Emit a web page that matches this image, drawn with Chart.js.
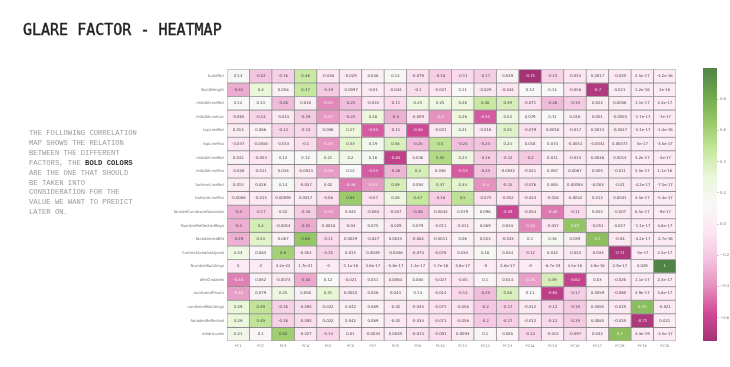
<!DOCTYPE html>
<html>
<head>
<meta charset="utf-8">
<script src="https://cdn.jsdelivr.net/npm/chart.js@4"></script>
<style>
html, body { margin:0; padding:0; background:#fff; width:730px; height:367px; overflow:hidden; }
h1 { position:absolute; left:23px; top:21px; margin:0; font:normal 15px/18px "DejaVu Sans Mono", monospace; -webkit-text-stroke:0.4px #222; color:#222; white-space:nowrap; filter:blur(0.25px); }
p { position:absolute; left:29px; top:129px; margin:0; font:7.2px/9.9px "Liberation Mono", monospace; color:#999; white-space:pre; filter:blur(0.25px); }
p b { color:#333; }
canvas { position:absolute; top:64px; filter:blur(0.45px); }
#heat { left:170px; }
#bar { left:690px; }
</style>
</head>
<body>
<h1>GLARE FACTOR - HEATMAP</h1>
<p>THE FOLLOWING CORRELATION
MAP SHOWS THE RELATION
BETWEEN THE DIFFERENT
FACTORS, THE <b>BOLD COLORS</b>
ARE THE ONE THAT SHOULD
BE TAKEN INTO
CONSIDERATION FOR THE
VALUE WE WANT TO PREDICT
LATER ON.</p>
<canvas id="heat" width="520" height="295"></canvas>
<canvas id="bar" width="40" height="295"></canvas>
<script>
// datos
const components = ['PC1','PC2','PC3','PC4','PC5','PC6','PC7','PC8','PC9','PC10','PC11','PC12','PC13','PC14','PC15','PC16','PC17','PC18','PC19','PC20'];
const factors = ['buildRot','BuildHeight','middleLineRot','middleLineLoc','topLineRot','topLinePos','middleLineRot','middleLinePos','bottomLineRot','bottomLinePos','facadeCurvatureGaussian','NumberReflectedRays','facadeAreaBld','ContextAreaAnalyzed','NumberBuildings','aftnGndarea','numberofFloors','numberofBuildings','facadesReflected','meanLuxes'];

const buildRot = [0.14,-0.22,-0.16,0.46,-0.038,-0.029,0.048,0.14,-0.079,-0.18,-0.11,-0.17,0.049,-0.75,-0.15,-0.053,0.0017,-0.029,2.5e-17,-4.2e-18];
const buildHeight = [-0.31,0.3,0.058,0.47,-0.19,-0.0097,-0.01,-0.044,-0.1,-0.047,0.11,-0.029,-0.044,0.12,0.13,-0.058,-0.7,0.021,1.2e-16,2e-16];
const middleRot1 = [0.12,0.14,-0.26,0.018,-0.42,-0.25,-0.035,-0.11,0.25,0.25,0.26,0.46,0.39,-0.071,-0.26,-0.19,0.022,0.0056,1.1e-17,2.4e-17];
const middleLoc = [-0.065,-0.14,-0.013,-0.19,-0.37,-0.22,0.28,-0.3,-0.059,-0.4,0.28,-0.53,0.24,0.079,0.11,0.016,0.001,-0.0055,-1.7e-17,-7e-17];
const topRot = [0.013,0.066,-0.14,-0.13,0.006,0.27,-0.53,-0.11,-0.58,-0.031,0.21,-0.016,0.35,-0.079,0.0016,-0.017,0.0013,-0.0047,-5.1e-17,-1.4e-16];
const topPos = [-0.037,-0.0083,-0.013,-0.1,-0.39,0.33,0.19,0.38,-0.25,0.5,-0.24,-0.23,0.24,0.018,0.074,-0.0051,-0.0041,0.00077,5e-17,-3.5e-17];
const middleRot2 = [0.042,-0.054,0.12,0.12,0.21,0.2,0.16,-0.64,0.036,0.55,0.24,-0.18,-0.12,-0.2,0.011,-0.015,0.0048,0.0014,3.2e-17,-4e-17];
const middlePos = [-0.026,-0.011,0.043,-0.0014,-0.36,0.12,-0.53,-0.28,0.4,0.036,-0.53,-0.23,-0.0032,-0.021,0.067,0.0087,0.005,-0.011,5.5e-17,1.1e-16];
const bottomRot = [0.015,0.026,0.14,-0.057,0.02,-0.46,-0.37,0.39,0.094,0.37,0.33,-0.4,-0.15,-0.076,0.063,0.00093,-0.003,-0.01,-4.2e-17,-7.5e-17];
const bottomPos = [-0.0088,-0.015,0.00095,0.0017,-0.08,0.64,-0.07,0.26,0.47,-0.18,0.5,-0.075,-0.052,-0.044,-0.016,-0.0042,0.012,0.0041,4.5e-17,-5.4e-17];
const curvature = [-0.3,-0.17,0.02,-0.18,-0.38,0.045,-0.063,-0.057,-0.28,-0.0042,0.079,0.096,-0.59,-0.054,-0.46,-0.11,0.055,-0.007,6.5e-17,-9e-17];
const reflRays = [-0.3,0.4,-0.0054,-0.31,-0.0018,-0.04,0.075,-0.029,0.079,-0.011,-0.011,0.069,0.043,-0.42,-0.037,0.67,-0.051,0.027,-1.1e-17,3.8e-17];
const facadeArea = [-0.29,0.34,0.067,0.66,-0.11,0.0029,-0.027,0.0023,-0.082,-0.0011,0.06,0.023,-0.033,0.1,0.16,0.039,0.7,-0.04,-4.2e-17,-2.7e-16];
const contextArea = [0.23,0.083,0.6,-0.054,-0.15,0.015,0.0049,-0.0048,-0.074,-0.078,0.033,0.16,0.044,-0.12,0.042,-0.025,-0.033,-0.71,-5e-17,2.5e-17];
const numBuildings = [0,0,4.2e-22,1.7e-21,-0,-1.1e-16,5.6e-17,-5.6e-17,1.4e-17,-1.7e-16,5.6e-17,-0,2.8e-17,-0,-6.7e-19,3.5e-16,3.9e-16,2.9e-17,0.029,1];
const gndArea = [-0.44,0.062,-0.0073,-0.32,0.12,-0.021,0.051,0.0064,0.083,-0.027,-0.05,0.1,0.014,-0.35,0.39,-0.62,0.03,-0.026,1.1e-17,2.3e-17];
const floors = [-0.35,0.079,0.25,0.058,0.31,0.0025,0.028,0.044,0.13,-0.014,-0.12,-0.25,0.38,0.11,-0.65,-0.17,0.0059,-0.066,4.9e-17,5.8e-17];
const buildings = [0.29,0.49,-0.16,-0.092,0.022,0.042,0.069,-0.02,-0.033,-0.071,-0.058,-0.2,-0.17,-0.012,-0.12,-0.19,0.0085,-0.019,0.71,-0.021];
const facadesRefl = [0.29,0.49,-0.16,-0.092,0.022,0.042,0.069,-0.02,-0.033,-0.071,-0.058,-0.2,-0.17,-0.012,-0.12,-0.19,0.0085,-0.019,-0.71,0.021];
const meanLuxes = [0.21,0.1,0.62,-0.027,-0.13,0.01,-0.0033,0.0049,-0.074,-0.091,0.0093,0.1,0.065,-0.14,-0.012,-0.097,0.032,0.7,3.3e-19,-3.5e-17];

const rows = [buildRot,buildHeight,middleRot1,middleLoc,topRot,topPos,middleRot2,middlePos,bottomRot,bottomPos,curvature,reflRays,facadeArea,contextArea,numBuildings,gndArea,floors,buildings,facadesRefl,meanLuxes];
const barTicks = [-0.6,-0.4,-0.2,0,0.2,0.4,0.6,0.8];
const vMin = -0.75, vMax = 1;

// paleta PiYG con alfa sobre blanco
const piyg = [[142,1,82],[197,27,125],[222,119,174],[241,182,218],[253,224,239],[247,247,247],[230,245,208],[184,225,134],[127,188,65],[77,146,33],[39,100,25]];
const cellAlpha = 0.8;

function cellRGB(t) {
    const f = Math.min(Math.max(t,0),1)*10;
    const i = Math.min(Math.floor(f),9);
    return piyg[i].map((c,k)=>{
        const mixed = c+(piyg[i+1][k]-c)*(f-i);
        return mixed*cellAlpha+255*(1-cellAlpha);
    });
}
function cellColor(v) {
    const c = cellRGB((v-vMin)/(vMax-vMin));
    return `rgb(${c[0]|0},${c[1]|0},${c[2]|0})`;
}
function fmt(v) {
    if (Object.is(v,-0)) return '-0';
    return String(Number(v.toPrecision(2)));
}

const grey = '#777';
Chart.defaults.font.family = '"DejaVu Sans", sans-serif';
Chart.defaults.animation = false;

// texto de cada celda, centrado en la barra
const cellLabels = {
    id:'cellLabels',
    afterDatasetsDraw(chart) {
        const ctx = chart.ctx;
        ctx.save();
        ctx.font = '3.8px "DejaVu Sans", sans-serif';
        ctx.textAlign = 'center';
        ctx.textBaseline = 'middle';
        chart.data.datasets.forEach((ds,i)=>{
            chart.getDatasetMeta(i).data.forEach((el,j)=>{
                const v = ds.data[j].v;
                ctx.fillStyle = (v<=-0.35 || v>=0.67) ? '#f4f4f4' : '#444';
                const p = el.getCenterPoint();
                ctx.fillText(fmt(v),p.x,p.y);
            });
        });
        ctx.restore();
    }
};

new Chart(document.getElementById('heat'),{
    type:'bar',
    data:{
        labels:components,
        datasets:rows.map((row,i)=>({
            label:factors[i],
            data:row.map((v,j)=>({x:components[j],y:[i,i+1],v:v})),
            backgroundColor:c=>cellColor(c.raw.v),
            borderColor:'rgba(100,100,100,0.6)',
            borderWidth:0.8,
            borderSkipped:false,
            grouped:false,
            barPercentage:1,
            categoryPercentage:1
        }))
    },
    plugins:[cellLabels],
    options:{
        responsive:false,
        layout:{padding:{top:4,right:14,left:0,bottom:0}},
        plugins:{legend:{display:false},tooltip:{enabled:false}},
        scales:{
            x:{
                grid:{display:false,drawTicks:false},border:{display:false},
                ticks:{color:grey,font:{size:3.5},padding:3,maxRotation:0,autoSkip:false},
                afterFit:s=>{s.height=18;}
            },
            y:{type:'linear',min:0,max:20,reverse:true,display:false},
            yRows:{
                type:'category',position:'left',labels:factors,offset:true,
                grid:{display:false,drawTicks:false},border:{display:false},
                ticks:{color:grey,font:{size:3.9},padding:3,autoSkip:false,maxRotation:0},
                afterFit:s=>{s.width=57;}
            }
        }
    }
});

// barra de color
const colorbar = ['colorbar'];
const barRange = [[vMin,vMax]];
new Chart(document.getElementById('bar'),{
    type:'bar',
    data:{
        labels:colorbar,
        datasets:[{
            data:barRange,
            borderWidth:0,
            barPercentage:1,
            categoryPercentage:1,
            backgroundColor:c=>{
                const area = c.chart.chartArea;
                if (!area) return '#ccc';
                const g = c.chart.ctx.createLinearGradient(0,area.bottom,0,area.top);
                for (let t=0;t<=1.0001;t+=0.02) {
                    const col = cellRGB(t);
                    g.addColorStop(Math.min(t,1),`rgb(${col[0]|0},${col[1]|0},${col[2]|0})`);
                }
                return g;
            }
        }]
    },
    options:{
        responsive:false,
        layout:{padding:{top:4,left:13,bottom:18,right:0}},
        plugins:{legend:{display:false},tooltip:{enabled:false}},
        scales:{
            x:{display:false},
            y:{
                position:'right',min:vMin,max:vMax,
                grid:{drawOnChartArea:false,tickLength:2,tickColor:'#999',tickWidth:0.5},
                border:{display:false},
                afterBuildTicks:s=>{s.ticks=barTicks.map(v=>({value:v}));},
                ticks:{color:grey,font:{size:3.8},padding:1,callback:v=>v.toFixed(1).replace('-','\u2212')},
                afterFit:s=>{s.width=13;}
            }
        }
    }
});
</script>
</body>
</html>
